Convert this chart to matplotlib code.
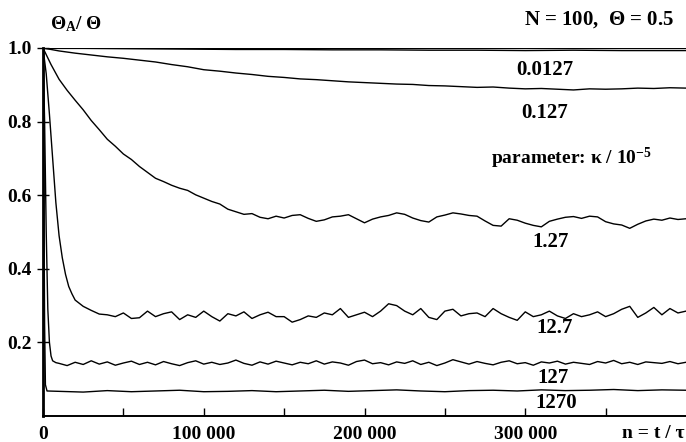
import numpy as np
import matplotlib
matplotlib.use("Agg")
import matplotlib.pyplot as plt

plt.rcParams['font.family'] = ['Liberation Serif', 'DejaVu Serif']
plt.rcParams['font.weight'] = 'bold'
plt.rcParams['mathtext.fontset'] = 'custom'
plt.rcParams['mathtext.rm'] = 'Liberation Serif:bold'
plt.rcParams['mathtext.it'] = 'Liberation Serif:bold'
plt.rcParams['mathtext.bf'] = 'Liberation Serif:bold'

# kappa / 1e-5 = 0.0127
n_a = [0, 30000, 60000, 90000, 120000, 150000, 180000, 210000, 240000, 270000,
       300000, 330000, 360000, 400000]
v_a = [1.0, 0.999, 0.998, 0.997, 0.996, 0.996, 0.995, 0.995, 0.994, 0.994,
       0.993, 0.994, 0.993, 0.993]

# kappa / 1e-5 = 0.127
n_b = [0, 10000, 20000, 30000, 40000, 50000, 60000, 70000, 80000, 90000, 100000,
       110000, 120000, 130000, 140000, 150000, 160000, 170000, 180000, 190000,
       200000, 210000, 220000, 230000, 240000, 250000, 260000, 270000, 280000,
       290000, 300000, 310000, 320000, 330000, 340000, 350000, 360000, 370000,
       380000, 390000, 400000]
v_b = [1.0, 0.992, 0.986, 0.981, 0.976, 0.972, 0.967, 0.962, 0.955, 0.949, 0.941,
       0.937, 0.932, 0.928, 0.923, 0.920, 0.916, 0.914, 0.911, 0.908,
       0.906, 0.904, 0.902, 0.901, 0.898, 0.897, 0.895, 0.893, 0.894,
       0.891, 0.889, 0.890, 0.888, 0.886, 0.889, 0.888, 0.889, 0.891,
       0.890, 0.892, 0.891]

# kappa / 1e-5 = 1.27
n_c = [0, 5000, 10000, 15000, 20000, 25000, 30000, 35000, 40000, 45000, 50000,
       55000, 60000, 65000, 70000, 75000, 80000, 85000, 90000, 95000, 100000,
       105000, 110000, 115000, 120000, 125000, 130000, 135000, 140000, 145000,
       150000, 155000, 160000, 165000, 170000, 175000, 180000, 185000, 190000,
       195000, 200000, 205000, 210000, 215000, 220000, 225000, 230000, 235000,
       240000, 245000, 250000, 255000, 260000, 265000, 270000, 275000, 280000,
       285000, 290000, 295000, 300000, 305000, 310000, 315000, 320000, 325000,
       330000, 335000, 340000, 345000, 350000, 355000, 360000, 365000, 370000,
       375000, 380000, 385000, 390000, 395000, 400000]
v_c = [1.0, 0.955, 0.915, 0.885, 0.858, 0.832, 0.803, 0.778, 0.752, 0.733, 0.712,
       0.697, 0.678, 0.662, 0.646, 0.637, 0.627, 0.619, 0.613, 0.601, 0.592,
       0.583, 0.576, 0.562, 0.555, 0.548, 0.550, 0.540, 0.536, 0.543,
       0.538, 0.545, 0.547, 0.537, 0.529, 0.533, 0.541, 0.543, 0.547,
       0.536, 0.525, 0.535, 0.541, 0.545, 0.552, 0.548, 0.538, 0.531,
       0.527, 0.541, 0.546, 0.552, 0.549, 0.545, 0.543, 0.530, 0.518,
       0.516, 0.536, 0.532, 0.524, 0.518, 0.514, 0.529, 0.535, 0.540,
       0.542, 0.537, 0.543, 0.541, 0.528, 0.522, 0.519, 0.510, 0.521,
       0.530, 0.535, 0.532, 0.538, 0.534, 0.536]

# kappa / 1e-5 = 12.7
n_d = [0, 2000, 4000, 6000, 8000, 10000, 12000, 14000, 16000, 18000, 20000,
       25000, 30000, 35000] + list(range(40000, 400001, 5000))
v_d = [1.0, 0.93, 0.82, 0.70, 0.58, 0.49, 0.43, 0.385, 0.352, 0.332, 0.315,
       0.298, 0.287, 0.277,
       0.275, 0.270, 0.280, 0.265, 0.267, 0.285, 0.270, 0.278, 0.283, 0.262,
       0.275, 0.268, 0.285, 0.270, 0.258, 0.278, 0.272, 0.283, 0.265, 0.275,
       0.282, 0.270, 0.270, 0.255, 0.262, 0.272, 0.268, 0.280, 0.275, 0.292,
       0.268, 0.275, 0.282, 0.270, 0.285, 0.305, 0.300, 0.285, 0.275, 0.292,
       0.268, 0.262, 0.285, 0.290, 0.272, 0.278, 0.280, 0.270, 0.292, 0.278,
       0.268, 0.260, 0.283, 0.270, 0.275, 0.285, 0.272, 0.265, 0.278, 0.270,
       0.275, 0.283, 0.270, 0.278, 0.290, 0.298, 0.268, 0.280, 0.295, 0.275,
       0.292, 0.280, 0.285]

# kappa / 1e-5 = 127
n_e = [0, 1000, 2000, 3000, 4000, 5000, 6000, 8000] + list(range(10000, 400001, 5000))
v_e = [1.0, 0.80, 0.50, 0.29, 0.20, 0.163, 0.150, 0.145,
       0.143, 0.137, 0.146, 0.140, 0.150, 0.141, 0.147, 0.138, 0.144, 0.149,
       0.140, 0.146, 0.139, 0.148, 0.142, 0.137, 0.145, 0.150, 0.141, 0.146,
       0.140, 0.144, 0.152, 0.143, 0.138, 0.147, 0.141, 0.149, 0.144, 0.139,
       0.146, 0.142, 0.150, 0.141, 0.147, 0.144, 0.138, 0.148, 0.152, 0.142,
       0.145, 0.139, 0.147, 0.143, 0.150, 0.140, 0.146, 0.137, 0.144, 0.153,
       0.147, 0.141, 0.148, 0.143, 0.139, 0.146, 0.150, 0.142, 0.145, 0.138,
       0.147, 0.144, 0.149, 0.141, 0.146, 0.143, 0.140, 0.148, 0.144, 0.151,
       0.142, 0.146, 0.140, 0.147, 0.145, 0.143, 0.148, 0.142, 0.146]

# kappa / 1e-5 = 1270
n_f = [0, 500, 1000, 1500, 2500] + list(range(10000, 400001, 15000))
v_f = [1.0, 0.62, 0.25, 0.085, 0.068,
       0.067, 0.065, 0.069, 0.066, 0.068, 0.070, 0.066, 0.067, 0.069, 0.066,
       0.068, 0.070, 0.067, 0.069, 0.071, 0.068, 0.066, 0.069, 0.070, 0.068,
       0.071, 0.069, 0.070, 0.072, 0.069, 0.071, 0.070]

curve_labels = ['0.0127', '0.127', '1.27', '12.7', '127', '1270']
label_pos = [(312000, 0.941), (312000, 0.824), (316000, 0.473),
             (318000, 0.239), (317000, 0.103), (319000, 0.035)]

x_ticks = [0, 100000, 200000, 300000]
x_ticklabels = ['0', '100 000', '200 000', '300 000']
y_ticks = [0.2, 0.4, 0.6, 0.8, 1.0]
y_ticklabels = ['0.2', '0.4', '0.6', '0.8', '1.0']

fig = plt.figure(figsize=(6.86, 4.42), dpi=100)
ax = fig.add_axes([43 / 686, 26 / 442, 1 - 43 / 686, 368 / 442])

for n, v in [(n_a, v_a), (n_b, v_b), (n_c, v_c), (n_d, v_d), (n_e, v_e), (n_f, v_f)]:
    ax.plot(n, v, color='black', linewidth=1.0)

ax.axhline(1.0, color='black', linewidth=1.6)

ax.set_xlim(0, 400000)
ax.set_ylim(0, 1.0)
ax.spines['right'].set_visible(False)
ax.spines['top'].set_visible(False)
ax.spines['left'].set_linewidth(2.0)
ax.spines['bottom'].set_linewidth(1.4)

ax.set_xticks(x_ticks)
ax.set_xticklabels(x_ticklabels)
ax.set_xticks(list(range(50000, 400000, 100000)), minor=True)
ax.set_yticks(y_ticks)
ax.set_yticklabels(y_ticklabels)
ax.tick_params(axis='both', which='both', direction='in', length=6, width=1.0,
               labelsize=14)
ax.tick_params(axis='x', pad=7)
ax.tick_params(axis='y', direction='inout', length=8, pad=4)

for lbl, (x, y) in zip(curve_labels, label_pos):
    ax.text(x, y, lbl, ha='center', va='center', fontsize=15)

ax.text(329000, 0.70, r'parameter: κ / 10$^{-5}$', ha='center', va='center',
        fontsize=14)
ax.text(392500, 1.078, r'N = 100,  $\Theta$ = 0.5', ha='right', va='center',
        fontsize=15, clip_on=False)
ax.text(4300, 1.064, r'$\Theta_A$/ $\Theta$', ha='left', va='center',
        fontsize=14, clip_on=False)
ax.text(379500, -0.048, 'n = t / τ', ha='center', va='center', fontsize=14,
        clip_on=False)

fig.savefig('out.png', dpi=100)
